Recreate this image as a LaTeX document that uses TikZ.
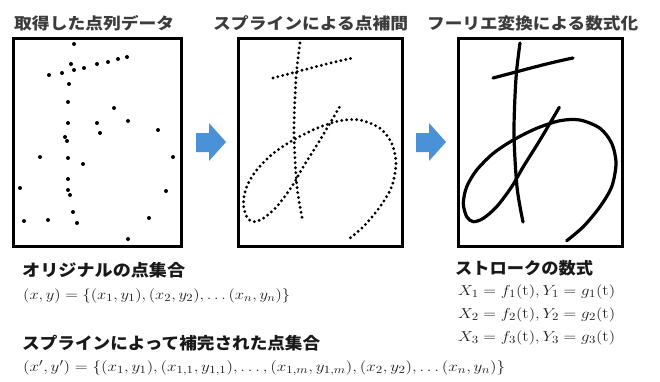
\documentclass[tikz,border=0pt]{standalone}
\usepackage{fontspec}
\usepackage{graphicx}
\newfontfamily\jp{Noto Sans CJK JP}
\definecolor{arrowblue}{RGB}{75,145,215}
\definecolor{titlegray}{RGB}{60,60,60}
\definecolor{headblack}{RGB}{25,25,25}
\definecolor{formgray}{RGB}{30,30,30}
\newcommand\fitw[2]{\resizebox{#1}{\height}{#2}}
\def\strokeA{(493,78) .. controls (520,71) and (548,63) .. (573,58)}
\def\strokeB{plot[smooth] coordinates {(520,43) (516,78) (514,133) (517,187) (523,222)}}
\def\strokeC{plot[smooth] coordinates {(559.3,107.3) (540,140) (523.3,166.7) (511.7,186.7) (496.7,206.7) (483.3,218.3) (473.3,221.7) (466.7,216.7) (463.3,203.3) (466.7,186.7) (476.7,170) (493.3,153.3) (513.3,140) (536.7,128.3) (560,120.7) (580,120) (600,128.3) (611.7,143.3) (616,163.3) (611.7,186.7) (600,206.7) (583.3,226.7) (566.7,240.7)}}
\begin{document}
\begin{tikzpicture}[x=1pt,y=-1pt,
  frame/.style={draw=black, line width=2.5pt, inner sep=0pt, minimum height=208pt},
  titletext/.style={anchor=west, inner sep=0pt, text=titlegray, font=\jp\bfseries\fontsize{16}{18}\selectfont},
  headtext/.style={anchor=west, inner sep=0pt, text=headblack, font=\jp\bfseries\fontsize{16.5}{18}\selectfont},
  formula/.style={anchor=west, inner sep=0pt, text=formgray, font=\fontsize{15.5}{17}\selectfont},
  solidstroke/.style={line width=3.2pt, line cap=round, line join=round},
  dotstroke/.style={line width=3.2pt, line cap=round, dash pattern=on 0pt off 5pt},
  blockarrow/.style={fill=arrowblue, draw=none}]
\useasboundingbox (0,0) rectangle (660,381);
\fill[white] (0,0) rectangle (660,381);

% titles
\node[titletext] (t1) at (14,23) {\fitw{160pt}{取得した点列データ}};
\node[titletext] (t2) at (213,23) {\fitw{195pt}{スプラインによる点補間}};
\node[titletext] (t3) at (427,23) {\fitw{211pt}{フーリエ変換による数式化}};

% frames
\node[frame, minimum width=168pt] (box1) at (97.5,142.5) {};
\node[frame, minimum width=164pt] (box2) at (320.5,142.5) {};
\node[frame, minimum width=164pt] (box3) at (540.5,142.5) {};

% raw points
\foreach \px/\py in {74/44, 127/57, 118/59, 108/62, 97/64, 84/68, 74/70, 71/64, 62/73, 49/75,
  69/84, 68/102, 114/108, 97/123, 128/121, 68/123, 100/133, 158/130, 65/137, 67/141,
  40/157, 68/158, 83/164, 173/157, 68/179, 20/188, 68/190, 70/195, 166/191, 73/212,
  24/221, 48/220, 77/223, 149/218, 128/239}
  \fill (\px,\py) circle (2);

% spline dots
\begin{scope}[xshift=-220pt]
  \draw[dotstroke] \strokeA;
  \draw[dotstroke] \strokeB;
  \draw[dotstroke] \strokeC;
\end{scope}

% fourier strokes
\draw[solidstroke] \strokeA;
\draw[solidstroke] \strokeB;
\draw[solidstroke] \strokeC;

% arrows
\fill[blockarrow] (196,133) -- (209,133) -- (209,123) -- (226,142) -- (209,161) -- (209,152) -- (196,152) -- cycle;
\fill[blockarrow] (416,133) -- (429,133) -- (429,123) -- (446,142) -- (429,161) -- (429,152) -- (416,152) -- cycle;

% lower headings
\node[headtext] (h1) at (22,270) {\fitw{163pt}{オリジナルの点集合}};
\node[headtext] (h2) at (22,343) {\fitw{298pt}{スプラインによって補完された点集合}};
\node[headtext] (h3) at (455,268) {\fitw{138pt}{ストロークの数式}};

% formulas
\node[formula] (f1) at (23,296) {\fitw{267pt}{$(x, y) = \{(x_1, y_1), (x_2, y_2), \ldots (x_n, y_n)\}$}};
\node[formula] (f2) at (23,368) {\fitw{482pt}{$(x', y') = \{(x_1, y_1), \bigl(x_{1,1}, y_{1,1}\bigr), \ldots, \bigl(x_{1,m}, y_{1,m}\bigr), (x_2, y_2), \ldots (x_n, y_n)\}$}};
\node[formula] (r1) at (458,292) {\fitw{157pt}{$X_1 = f_1(\mathrm{t}), Y_1 = g_1(\mathrm{t})$}};
\node[formula] (r2) at (458,315) {\fitw{157pt}{$X_2 = f_2(\mathrm{t}), Y_2 = g_2(\mathrm{t})$}};
\node[formula] (r3) at (458,338) {\fitw{157pt}{$X_3 = f_3(\mathrm{t}), Y_3 = g_3(\mathrm{t})$}};
\end{tikzpicture}
\end{document}
